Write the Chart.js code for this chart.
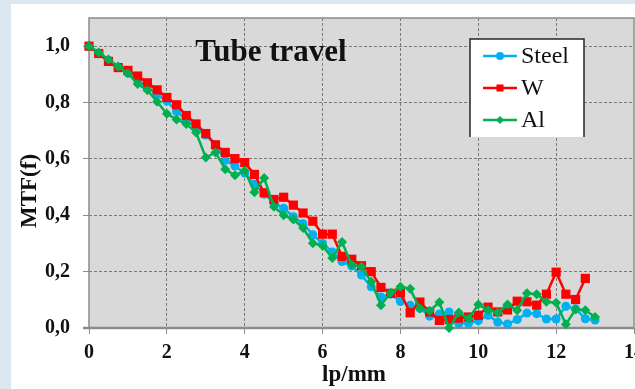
<!DOCTYPE html>
<html><head><meta charset="utf-8">
<script src="https://cdn.jsdelivr.net/npm/chart.js@4.4.0/dist/chart.umd.min.js"></script>
<style>
html,body{margin:0;padding:0;width:635px;height:389px;overflow:hidden;background:#dde7f2;}
#panel{position:absolute;left:11px;top:4px;width:660px;height:387px;background:#ffffff;}
#wrap{position:absolute;left:0;top:0;width:650px;height:387px;}
</style></head><body>
<div id="panel"><div id="wrap"><canvas id="c" width="650" height="387"></canvas></div></div>
<script>
const chartTitle = 'Tube travel';
const xTitle = 'lp/mm';
const yTitle = 'MTF(f)';
const lpmm = [0,0.25,0.5,0.75,1,1.25,1.5,1.75,2,2.25,2.5,2.75,3,3.25,3.5,3.75,4,4.25,4.5,4.75,5,5.25,5.5,5.75,6,6.25,6.5,6.75,7,7.25,7.5,7.75,8,8.25,8.5,8.75,9,9.25,9.5,9.75,10,10.25,10.5,10.75,11,11.25,11.5,11.75,12,12.25,12.5,12.75,13];
const steel = [1.0,0.974,0.95,0.925,0.905,0.88,0.855,0.828,0.805,0.768,0.74,0.71,0.685,0.65,0.595,0.575,0.55,0.51,0.475,0.445,0.425,0.395,0.37,0.331,0.30,0.27,0.236,0.22,0.188,0.146,0.11,0.12,0.094,0.081,0.07,0.042,0.05,0.057,0.016,0.017,0.026,0.045,0.021,0.014,0.03,0.053,0.051,0.032,0.032,0.077,0.068,0.033,0.028];
const tungsten = [1.0,0.974,0.946,0.924,0.914,0.894,0.870,0.845,0.818,0.792,0.754,0.724,0.690,0.650,0.623,0.601,0.587,0.545,0.480,0.456,0.464,0.436,0.408,0.379,0.333,0.333,0.254,0.244,0.221,0.200,0.144,0.123,0.125,0.054,0.092,0.057,0.027,0.030,0.035,0.039,0.045,0.074,0.057,0.064,0.095,0.093,0.081,0.120,0.198,0.120,0.101,0.176];
const aluminium = [1.0,0.978,0.953,0.928,0.904,0.866,0.844,0.803,0.760,0.740,0.724,0.694,0.605,0.623,0.563,0.542,0.558,0.482,0.532,0.430,0.400,0.385,0.355,0.301,0.292,0.248,0.305,0.224,0.217,0.164,0.081,0.125,0.146,0.139,0.069,0.061,0.091,0.0,0.055,0.033,0.083,0.064,0.054,0.083,0.063,0.123,0.120,0.093,0.090,0.013,0.066,0.063,0.039];
const seriesNames = ['Steel','W','Al'];
const seriesColors = ['#00b0f0','#ff0000','#00b050'];

const SERIF = '"Liberation Serif","Times New Roman",serif';
function pts(vals){ return vals.map((v,i)=>({x:lpmm[i], y:v})); }

const decor = {
  id:'decor',
  beforeDraw(chart){
    const {ctx, chartArea:a} = chart;
    ctx.save();
    ctx.fillStyle = '#d9d9d9';
    ctx.fillRect(a.left, a.top, a.right-a.left, a.bottom-a.top);
    ctx.restore();
  },
  beforeDatasetsDraw(chart){
    const {ctx, chartArea:a} = chart;
    ctx.save();
    ctx.strokeStyle = '#8c8c8c';
    ctx.lineWidth = 1.5;
    ctx.strokeRect(a.left, a.top, a.right-a.left, a.bottom-a.top);
    ctx.lineWidth = 2.5;
    ctx.beginPath(); ctx.moveTo(a.left-6, a.bottom); ctx.lineTo(a.right, a.bottom); ctx.stroke();
    ctx.restore();
  },
  afterDraw(chart){
    const {ctx, chartArea:a} = chart;
    ctx.save();
    ctx.fillStyle = '#111';
    ctx.font = 'bold 31px ' + SERIF;
    ctx.textAlign = 'center';
    ctx.textBaseline = 'alphabetic';
    ctx.fillText(chartTitle, a.left + 182, a.top + 43);
    // axis titles
    ctx.font = 'bold 23px ' + SERIF;
    ctx.textBaseline = 'middle';
    ctx.fillText(xTitle, a.left + 265, a.bottom + 47);
    ctx.save();
    ctx.translate(19, a.top + 173);
    ctx.rotate(-Math.PI / 2);
    ctx.fillText(yTitle, 0, 0);
    ctx.restore();
    // legend box
    const L = a.left + 381, R = a.left + 495, T = a.top + 21, B = a.top + 119;
    ctx.fillStyle = '#ffffff';
    ctx.fillRect(L, T, R-L, B-T);
    ctx.strokeStyle = '#262626';
    ctx.lineWidth = 1.5;
    ctx.beginPath(); ctx.moveTo(L, B); ctx.lineTo(L, T); ctx.lineTo(R, T); ctx.lineTo(R, B); ctx.stroke();
    const ys = [a.top+38, a.top+70, a.top+102];
    chart.data.datasets.forEach((ds, i) => {
      const y = ys[i];
      ctx.strokeStyle = ds.borderColor; ctx.fillStyle = ds.borderColor;
      ctx.lineWidth = 2.5;
      ctx.beginPath(); ctx.moveTo(a.left+394, y); ctx.lineTo(a.left+428, y); ctx.stroke();
      Chart.helpers.drawPoint(ctx, {pointStyle: ds.pointStyle, radius: i===1 ? 5 : 4, rotation:0, borderWidth:0}, a.left+411, y);
      ctx.fillStyle = '#111';
      ctx.font = '24px ' + SERIF;
      ctx.textAlign = 'left';
      ctx.textBaseline = 'middle';
      ctx.fillText(ds.label, a.left + 432, y + 1);
    });
    ctx.restore();
  }
};

const tickFont = {family: SERIF, size: 20, weight: 'bold'};

new Chart(document.getElementById('c'), {
  type: 'line',
  data: {
    datasets: [
      {label: seriesNames[0], data: pts(steel), borderColor: seriesColors[0], backgroundColor: seriesColors[0], pointStyle: 'circle', pointRadius: 4.5, pointBorderWidth: 0, borderWidth: 2.5, order: 3, clip: false},
      {label: seriesNames[1], data: pts(tungsten), borderColor: seriesColors[1], backgroundColor: seriesColors[1], pointStyle: 'rect', pointRadius: 6.5, pointBorderWidth: 0, borderWidth: 2.5, order: 2, clip: false},
      {label: seriesNames[2], data: pts(aluminium), borderColor: seriesColors[2], backgroundColor: seriesColors[2], pointStyle: 'rectRot', pointRadius: 5, pointBorderWidth: 0, borderWidth: 2.5, order: 1, clip: false}
    ]
  },
  options: {
    responsive: false,
    animation: false,
    devicePixelRatio: 1,
    layout: {padding: {left: 0, top: 14, right: 27, bottom: 0}},
    plugins: {legend: {display: false}, tooltip: {enabled: false}},
    elements: {line: {tension: 0}},
    scales: {
      x: {
        type: 'linear', min: 0, max: 14,
        ticks: {stepSize: 2, color: '#111', font: tickFont, padding: 7, maxRotation: 0, autoSkip: false},
        grid: {
          color: c => (c.tick && (c.tick.value === 0 || c.tick.value === 14)) ? 'rgba(0,0,0,0)' : '#7a7a7a',
          tickColor: '#8c8c8c', tickLength: 6, lineWidth: 1, borderDash: [3,2]
        },
        border: {display: false, dash: [3,2]},
        title: {display: false},
        afterFit(s){ s.height = 63; s.paddingLeft = 0; }
      },
      y: {
        min: 0, max: 1.1,
        ticks: {stepSize: 0.2, color: '#111', font: tickFont, padding: 13,
          callback: v => v > 1.05 ? '' : v.toFixed(1).replace('.', ',')},
        grid: {
          color: c => (c.tick && (c.tick.value === 0 || c.tick.value > 1.05)) ? 'rgba(0,0,0,0)' : '#7a7a7a',
          tickColor: c => (c.tick && c.tick.value > 1.05) ? 'rgba(0,0,0,0)' : '#8c8c8c',
          tickLength: 6, lineWidth: 1, borderDash: [3,2]
        },
        border: {display: false, dash: [3,2]},
        title: {display: false},
        afterFit(s){ s.width = 78; s.paddingTop = 0; s.paddingBottom = 0; }
      }
    }
  },
  plugins: [decor]
});
</script>
</body></html>
